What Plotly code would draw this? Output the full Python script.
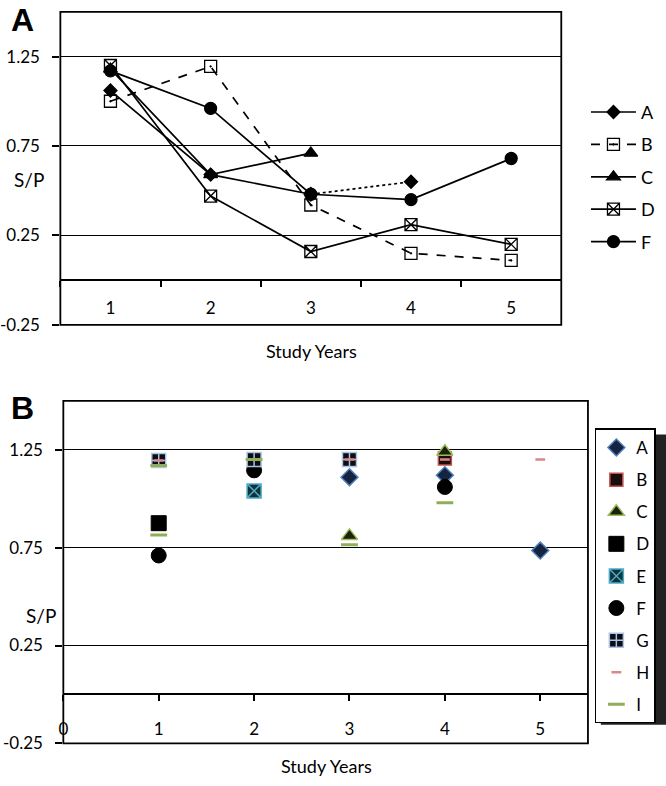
import plotly.graph_objects as go

# ---------------- Panel A data ----------------
years_cat = ["1", "2", "3", "4", "5"]
a_years = ["1", "2", "3"]
a_vals = [1.06, 0.59, 0.48]
a_dot_years = ["3", "4"]
a_dot_vals = [0.48, 0.55]
b_vals = [1.00, 1.195, 0.42, 0.15, 0.11]
c_years = ["1", "2", "3"]
c_vals = [1.18, 0.59, 0.71]
d_vals = [1.20, 0.47, 0.16, 0.31, 0.20]
f_vals = [1.17, 0.96, 0.48, 0.45, 0.68]

# ---------------- Panel B data ----------------
bA_x = [3, 4, 5];        bA_y = [1.11, 1.12, 0.735]
bB_x = [4];              bB_y = [1.205]
bC_x = [3, 4];           bC_y = [0.81, 1.24]
bD_x = [1];              bD_y = [0.875]
bE_x = [2];              bE_y = [1.04]
bF_x = [1, 2, 4];        bF_y = [0.71, 1.145, 1.06]
bG_x = [1, 2, 3];        bG_y = [1.195, 1.20, 1.20]
bH_x = [1, 3, 4, 5];     bH_y = [1.195, 1.20, 1.20, 1.20]
bI_x = [1, 1, 2, 3, 4];  bI_y = [1.17, 0.815, 1.20, 0.765, 0.98]

y_ticks = [-0.25, 0.25, 0.75, 1.25]
y_ticktext = ["-0.25", "0.25", "0.75", "1.25"]

FONT = "Lato, Open Sans, sans-serif"
fig = go.Figure()

# Panel A traces
lw = 1.7
def lineA(name, x, y, symbol, size, dash="solid", show=True, group=None):
    fig.add_trace(go.Scatter(
        x=x, y=y, name=name, mode="lines+markers",
        line=dict(color="black", width=lw, dash=dash),
        marker=dict(symbol=symbol, size=size, color="black",
                    line=dict(color="black", width=1.3)),
        xaxis="x", yaxis="y", legend="legend", showlegend=show,
        legendgroup=group or name,
    ))

lineA("A", a_years, a_vals, "diamond", 10)
lineA("B", years_cat, b_vals, "square-open-dot", 12, dash="dash")
lineA("C", c_years, c_vals, "triangle-up", 12)
lineA("D", years_cat, d_vals, "square-x-open", 12)
lineA("F", years_cat, f_vals, "circle", 12)
lineA("A", a_dot_years, a_dot_vals, "diamond", 10, dash="dot", show=False, group="A")

# Panel B traces
def ptB(name, x, y, symbol, size, fill, lc, lwid):
    fig.add_trace(go.Scatter(
        x=x, y=y, name=name, mode="markers",
        marker=dict(symbol=symbol, size=size, color=fill,
                    line=dict(color=lc, width=lwid)),
        xaxis="x2", yaxis="y2", legend="legend2", legendgroup="B" + name,
    ))

ptB("A", bA_x, bA_y, "diamond", 13, "#16243f", "#4f81bd", 1.5)
ptB("B", bB_x, bB_y, "square", 13, "#1a0d0d", "#c0504d", 1.5)
ptB("C", bC_x, bC_y, "triangle-up", 14, "#1b2210", "#9bbb59", 1.5)
ptB("D", bD_x, bD_y, "square", 15, "black", "black", 1)
ptB("E", bE_x, bE_y, "square-x", 14, "#12313a", "#4bacc6", 1.5)
ptB("F", bF_x, bF_y, "circle", 15, "black", "black", 1)
ptB("G", bG_x, bG_y, "square-cross", 14, "#0d0d12", "#a9c4e4", 1.5)
ptB("H", bH_x, bH_y, "line-ew", 7, "#d9888a", "#d9888a", 2.5)
ptB("I", bI_x, bI_y, "line-ew", 12, "#7f9a4a", "#8fae5a", 3)

# Geometry (paper fractions)
W, H = 666, 786
ax_A = dict(x0=53 / W, x1=560 / W, y0=1 - 329 / H, y1=1 - 12 / H)
ax_B = dict(x0=56 / W, x1=587 / W, y0=1 - 753 / H, y1=1 - 406 / H)
frac0 = 0.25 / 1.75

tickfont = dict(family=FONT, size=17, color="black")

common_x = dict(showline=True, linecolor="black", linewidth=1.5,
                ticks="outside", ticklen=6, tickcolor="black", tickwidth=1.5,
                showgrid=False, tickfont=tickfont, zeroline=False,
                ticklabelstandoff=13)
common_y = dict(range=[-0.25, 1.5], tickvals=y_ticks, ticktext=y_ticktext,
                showgrid=True, gridcolor="black", gridwidth=1.3,
                ticks="outside", ticklen=7, tickcolor="black", tickwidth=1.5,
                showline=False, zeroline=False, tickfont=tickfont,
                ticklabelstandoff=9)

fig.update_layout(
    width=W, height=H,
    margin=dict(l=0, r=0, t=0, b=0),
    paper_bgcolor="white", plot_bgcolor="white",
    font=dict(family=FONT, color="black"),
    xaxis=dict(
        domain=[ax_A["x0"], ax_A["x1"]], type="category",
        categoryorder="array", categoryarray=years_cat,
        range=[-0.5, 4.5], tickson="boundaries",
        anchor="free", position=ax_A["y0"] + frac0 * (ax_A["y1"] - ax_A["y0"]),
        **common_x,
    ),
    yaxis=dict(domain=[ax_A["y0"], ax_A["y1"]], anchor="x", **common_y),
    xaxis2=dict(
        domain=[ax_B["x0"], ax_B["x1"]],
        range=[0, 5.5], tickvals=[0, 1, 2, 3, 4, 5],
        anchor="free", position=ax_B["y0"] + frac0 * (ax_B["y1"] - ax_B["y0"]),
        **common_x,
    ),
    yaxis2=dict(domain=[ax_B["y0"], ax_B["y1"]], anchor="x2", **common_y),
    legend=dict(
        x=585 / W, y=1 - 95 / H, xanchor="left", yanchor="top",
        bgcolor="rgba(0,0,0,0)", borderwidth=0,
        font=dict(family=FONT, size=18, color="black"),
        itemwidth=45, tracegroupgap=6,
    ),
    legend2=dict(
        x=594 / W, y=1 - 434 / H, xanchor="left", yanchor="top",
        bgcolor="white", bordercolor="black", borderwidth=1.5,
        font=dict(family=FONT, size=17, color="black"),
        itemwidth=30, tracegroupgap=7,
    ),
    showlegend=True,
)

# frames
for ax in (ax_A, ax_B):
    fig.add_shape(type="rect", xref="paper", yref="paper",
                  x0=ax["x0"], x1=ax["x1"], y0=ax["y0"], y1=ax["y1"],
                  line=dict(color="black", width=1.8), layer="above")

# shadow for legend B
fig.add_shape(type="rect", xref="paper", yref="paper",
              x0=600 / W, x1=666 / W, y0=1 - 734 / H, y1=1 - 440 / H,
              fillcolor="#222222", line=dict(width=0), layer="below")

annots = [
    dict(text="<b>A</b>", x=1 / W, y=1 - 0 / H, xanchor="left", yanchor="top",
         font=dict(family="Liberation Sans, Arial", size=32)),
    dict(text="<b>B</b>", x=1 / W, y=1 - 393 / H, xanchor="left", yanchor="top",
         font=dict(family="Liberation Sans, Arial", size=32)),
    dict(text="S/P", x=21 / W, y=1 - 182 / H, xanchor="center", yanchor="middle",
         font=dict(family=FONT, size=19)),
    dict(text="S/P", x=33 / W, y=1 - 623 / H, xanchor="center", yanchor="middle",
         font=dict(family=FONT, size=19)),
    dict(text="Study Years", x=307 / W, y=1 - 356 / H, xanchor="center", yanchor="middle",
         font=dict(family=FONT, size=18)),
    dict(text="Study Years", x=322 / W, y=1 - 776 / H, xanchor="center", yanchor="middle",
         font=dict(family=FONT, size=18)),
]
for a in annots:
    a.update(xref="paper", yref="paper", showarrow=False)
    fig.add_annotation(**a)

fig.write_html("out.html", config={"displayModeBar": False},
               post_script="document.body.style.margin='0';")
